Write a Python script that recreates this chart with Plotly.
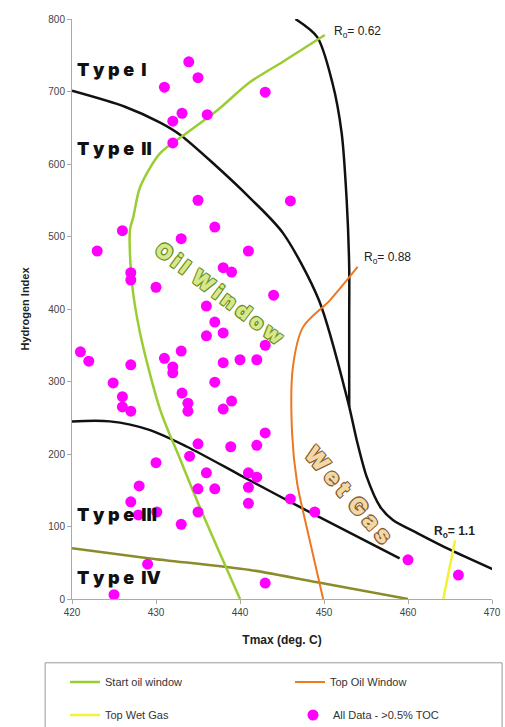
import plotly.graph_objects as go

# ---------------- data ----------------
# All Data - >0.5% TOC
data_tmax = [433.9, 435.0, 431.0, 443.0, 433.1, 432.0, 436.1, 432.0, 435.0, 446.0,
             426.0, 423.0, 433.0, 437.0, 427.0, 427.0, 430.0, 441.0, 438.0, 439.0,
             444.0, 436.0, 437.0, 436.0, 438.0, 443.0, 421.0, 422.0, 427.0, 431.0,
             433.0, 432.0, 432.0, 424.9, 426.0, 426.0, 427.0, 433.1, 433.8, 433.8,
             438.0, 440.0, 442.0, 437.0, 439.0, 438.0, 443.0, 442.0, 438.9, 435.0,
             434.0, 430.0, 436.0, 441.0, 442.0, 441.0, 441.0, 435.0, 437.0, 435.0,
             446.0, 448.9, 433.0, 428.0, 427.0, 427.9, 430.1, 429.0, 425.0, 443.0,
             460.0, 466.0]
data_hi = [741, 719, 706, 699, 670, 659, 668, 629, 550, 549,
           508, 480, 497, 513, 450, 440, 430, 480, 457, 451,
           419, 404, 382, 363, 367, 350, 341, 328, 323, 332,
           342, 320, 312, 298, 279, 265, 259, 284, 270, 259,
           326, 330, 330, 299, 273, 262, 229, 212, 210, 214,
           197, 188, 174, 174, 168, 154, 132, 152, 152, 120,
           138, 120, 103, 156, 134, 116, 120, 48, 6, 22,
           54, 33]

# Kerogen type boundaries
type12_tmax = [420.0, 426.3, 430.5, 432.9, 436.8, 441.2, 445.1, 449.4, 452.9, 453.9, 455.1, 456.7, 458.2, 461.1, 465.0, 470.1]
type12_hi   = [701, 679, 657, 640, 601, 553, 505, 412, 270, 219, 168, 127, 109, 91, 68, 41]

type23_tmax = [420.0, 424.5, 429.3, 433.7, 440.0, 447.1, 459.0]
type23_hi   = [245, 245, 233, 210, 171, 127, 56]

type34_tmax = [420.0, 429.3, 441.2, 449.2, 460.0]
type34_hi   = [70, 56, 40, 23, 0]

# Ro = 0.62 iso-line
ro62_tmax = [446.6, 449.2, 451.0, 452.1, 452.7, 453.0, 453.0, 453.0]
ro62_hi   = [800, 775, 712, 643, 550, 458, 385, 265]

# Maturity lines
start_oil_tmax = [440.0, 437.6, 435.2, 432.9, 430.5, 428.1, 427.1, 426.9, 427.3, 428.1, 430.5, 433.7, 437.3, 441.2, 445.1, 450.1]
start_oil_hi   = [0, 63, 127, 192, 261, 367, 440, 509, 527, 568, 615, 643, 674, 713, 741, 778]

top_oil_tmax = [449.9, 448.1, 446.8, 446.2, 446.3, 447.5, 450.7, 454.0]
top_oil_hi   = [0, 91, 160, 229, 320, 375, 412, 458]

top_wet_tmax = [464.2, 465.6]
top_wet_hi   = [0, 81]

x_ticks = [420, 430, 440, 450, 460, 470]
y_ticks = [0, 100, 200, 300, 400, 500, 600, 700, 800]

# ---------------- figure ----------------
FONT = "Liberation Sans, Arial, sans-serif"
fig = go.Figure()

def black_line(x, y, w=2.5, color="#111111"):
    fig.add_trace(go.Scatter(x=x, y=y, mode="lines", showlegend=False, hoverinfo="skip",
                             line=dict(color=color, width=w, shape="spline", smoothing=0.8)))

black_line(type12_tmax, type12_hi)
black_line(type23_tmax, type23_hi)
black_line(type34_tmax, type34_hi, w=2.5, color="#8B8B2B")
black_line(ro62_tmax, ro62_hi)

fig.add_trace(go.Scatter(x=start_oil_tmax, y=start_oil_hi, mode="lines", name="Start oil window",
                         line=dict(color="#9ACD32", width=2.5, shape="spline", smoothing=0.8),
                         legend="legend"))
fig.add_trace(go.Scatter(x=top_oil_tmax, y=top_oil_hi, mode="lines", name="Top Oil Window",
                         line=dict(color="#EE7722", width=2, shape="spline", smoothing=0.8),
                         legend="legend2"))
fig.add_trace(go.Scatter(x=top_wet_tmax, y=top_wet_hi, mode="lines", name="Top Wet Gas",
                         line=dict(color="#F2F23A", width=2.5),
                         legend="legend3"))
fig.add_trace(go.Scatter(x=data_tmax, y=data_hi, mode="markers", name="All Data - >0.5% TOC",
                         marker=dict(color="#FF00FF", size=11, line=dict(width=0)),
                         legend="legend4"))

# ---------------- text ----------------
def type_label(text, x, y):
    fig.add_annotation(x=x, y=y, text=text, showarrow=False, xanchor="left",
                       yanchor="middle",
                       font=dict(family="Inter, Roboto, sans-serif", weight=900,
                                 size=18, color="#111111"))

type_label("T y p e  I", 420.4, 731)
type_label("T y p e  II", 420.4, 622)
type_label("T y p e  III", 420.4, 116)
type_label("T y p e  IV", 420.4, 29)

outline_g = "-1px -1px 0 #6B8E23, 1px -1px 0 #6B8E23, -1px 1px 0 #6B8E23, 1px 1px 0 #6B8E23"
fig.add_annotation(x=437.6, y=421, text="O i l  W i n d o w", showarrow=False, textangle=37,
                   font=dict(family="Inter, DejaVu Sans, sans-serif", weight=900, size=21,
                             color="#D7E88A", shadow=outline_g))
outline_b = "-1px -1px 0 #8B5A2B, 1px -1px 0 #8B5A2B, -1px 1px 0 #8B5A2B, 1px 1px 0 #8B5A2B"
fig.add_annotation(x=452.9, y=143, text="W e t  G a s", showarrow=False, textangle=49,
                   font=dict(family="Inter, DejaVu Sans, sans-serif", weight=900, size=23,
                             color="#F0D9A8", shadow=outline_b))

def ro_label(text, x, y):
    fig.add_annotation(x=x, y=y, text=text, showarrow=False, xanchor="left", yanchor="middle",
                       font=dict(family=FONT, size=12, color="#222222"))

ro_label("R<sub>o</sub>= 0.62", 451.0, 782)
ro_label("R<sub>o</sub>= 0.88", 454.5, 470)
ro_label("<b>R<sub>o</sub>= 1.1</b>", 462.9, 93)

# legend frame
fig.add_shape(type="rect", xref="paper", yref="paper",
              x0=-0.064, x1=1.024, y0=-0.26, y1=-0.110,
              line=dict(color="#9A9A9A", width=1), fillcolor="rgba(0,0,0,0)")

leg_common = dict(orientation="h", xref="container", yref="container", xanchor="left",
                  yanchor="middle", bgcolor="rgba(0,0,0,0)",
                  font=dict(family=FONT, size=11, color="#333333"))

fig.update_layout(
    width=505, height=727,
    margin=dict(l=72, r=13, t=19, b=128, autoexpand=False),
    paper_bgcolor="white", plot_bgcolor="white",
    font=dict(family=FONT, size=10, color="#333333"),
    xaxis=dict(range=[420, 470], tickvals=x_ticks, showgrid=False, zeroline=False,
               showline=True, linecolor="#AAAAAA", linewidth=1, ticks="outside",
               tickcolor="#AAAAAA", ticklen=4, tickfont=dict(size=10, color="#444444"),
               automargin=True,
               title=dict(text="<b>Tmax (deg. C)</b>", font=dict(size=12, color="#222222"),
                          standoff=18)),
    yaxis=dict(range=[0, 800], tickvals=y_ticks, showgrid=False, zeroline=False,
               showline=True, linecolor="#AAAAAA", linewidth=1, ticks="outside",
               tickcolor="#AAAAAA", ticklen=4, tickfont=dict(size=10, color="#444444"),
               automargin=True,
               title=dict(text="<b>Hydrogen Index</b>", font=dict(size=11, color="#222222"),
                          standoff=16)),
    legend=dict(x=65 / 505, y=1 - 682 / 727, **leg_common),
    legend2=dict(x=290 / 505, y=1 - 682 / 727, **leg_common),
    legend3=dict(x=65 / 505, y=1 - 715 / 727, **leg_common),
    legend4=dict(x=293 / 505, y=1 - 715 / 727, **leg_common),
    showlegend=True,
)

fig.write_html("out.html", config={"displayModeBar": False},
               post_script="document.body.style.margin='0';document.body.style.overflow='hidden';")
